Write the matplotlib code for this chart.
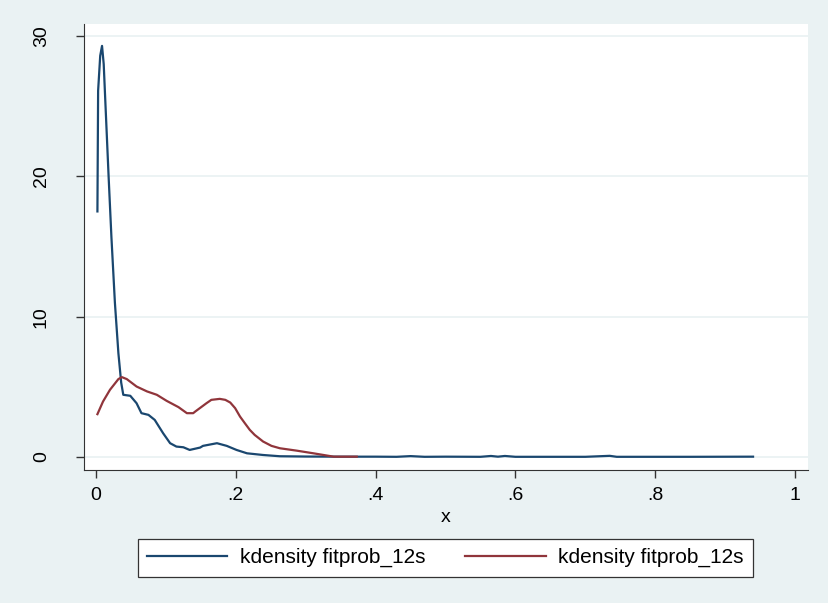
import numpy as np
import matplotlib.pyplot as plt

plt.rcParams['font.family'] = ['Liberation Sans', 'DejaVu Sans']

# kdensity curves
x_blue = [0.002, 0.003, 0.006, 0.0086, 0.011, 0.013, 0.018, 0.022, 0.027, 0.032,
          0.036, 0.039, 0.049, 0.058, 0.065, 0.075, 0.084, 0.096, 0.106, 0.115,
          0.125, 0.134, 0.149, 0.153, 0.173, 0.187, 0.201, 0.216, 0.239, 0.263,
          0.30, 0.35, 0.40, 0.43, 0.45, 0.47, 0.50, 0.55, 0.565, 0.575, 0.585,
          0.60, 0.70, 0.735, 0.745, 0.76, 0.85, 0.94]
y_blue = [17.5, 26.1, 28.6, 29.3, 28.0, 25.7, 20.0, 15.7, 11.0, 7.4,
          5.3, 4.43, 4.36, 3.83, 3.12, 3.0, 2.64, 1.69, 0.98, 0.74,
          0.69, 0.5, 0.67, 0.79, 0.98, 0.79, 0.5, 0.26, 0.14, 0.05,
          0.03, 0.02, 0.02, 0.01, 0.06, 0.01, 0.02, 0.01, 0.07, 0.02, 0.07,
          0.01, 0.01, 0.08, 0.01, 0.01, 0.01, 0.02]

x_red = [0.002, 0.010, 0.020, 0.032, 0.037, 0.044, 0.058, 0.073, 0.087, 0.101,
         0.118, 0.130, 0.139, 0.142, 0.158, 0.165, 0.177, 0.185, 0.192, 0.199,
         0.206, 0.213, 0.220, 0.227, 0.239, 0.251, 0.263, 0.287, 0.311, 0.340,
         0.373]
y_red = [3.05, 3.95, 4.79, 5.55, 5.69, 5.55, 5.02, 4.67, 4.43, 4.0,
         3.55, 3.12, 3.12, 3.24, 3.83, 4.07, 4.14, 4.07, 3.88, 3.48,
         2.88, 2.4, 1.93, 1.57, 1.1, 0.79, 0.62, 0.45, 0.26, 0.02,
         0.02]

x_ticks = [0, 0.2, 0.4, 0.6, 0.8, 1]
x_ticklabels = ["0", ".2", ".4", ".6", ".8", "1"]
y_ticks = [0, 10, 20, 30]

bg = "#EAF2F3"
blue = "#1A476F"
red = "#90353B"

fig = plt.figure(figsize=(8.29, 6.03), dpi=100, facecolor=bg)
ax = fig.add_axes([84/829, 1-470/603, (808-84)/829, (470-24)/603])
ax.set_facecolor("white")

ax.plot(x_blue, y_blue, color=blue, lw=1.6, label="kdensity fitprob_12s")
ax.plot(x_red, y_red, color=red, lw=1.6, label="kdensity fitprob_12s")

ax.set_xlim(-0.0172, 1.0186)
ax.set_ylim(-0.93, 30.86)
ax.set_xticks(x_ticks)
ax.set_xticklabels(x_ticklabels)
ax.set_yticks(y_ticks)
ax.set_yticklabels([str(v) for v in y_ticks], rotation=90, va="center")
ax.tick_params(labelsize=14, length=5.5, width=1, color="#333333")
ax.tick_params(axis="x", pad=7)
ax.tick_params(axis="y", pad=19)
ax.grid(axis="y", color=bg, lw=1.3)
ax.set_axisbelow(True)
for s in ["top", "right"]:
    ax.spines[s].set_visible(False)
for s in ["left", "bottom"]:
    ax.spines[s].set_color("#333333")
ax.set_xlabel("x", fontsize=14)
ax.xaxis.label.set_va("center")
ax.xaxis.set_label_coords(0.5, -(517-470)/446)

leg = fig.legend(loc="center", bbox_to_anchor=(445.5/829, 1-557.5/603), ncol=2,
                 fontsize=15, frameon=True, fancybox=False, framealpha=1,
                 handlelength=3.85, columnspacing=1.9, borderpad=0.45,
                 handletextpad=0.62)
leg.get_frame().set_edgecolor("#333333")
leg.get_frame().set_linewidth(0.9)

fig.savefig("out.png", dpi=100, facecolor=bg)
